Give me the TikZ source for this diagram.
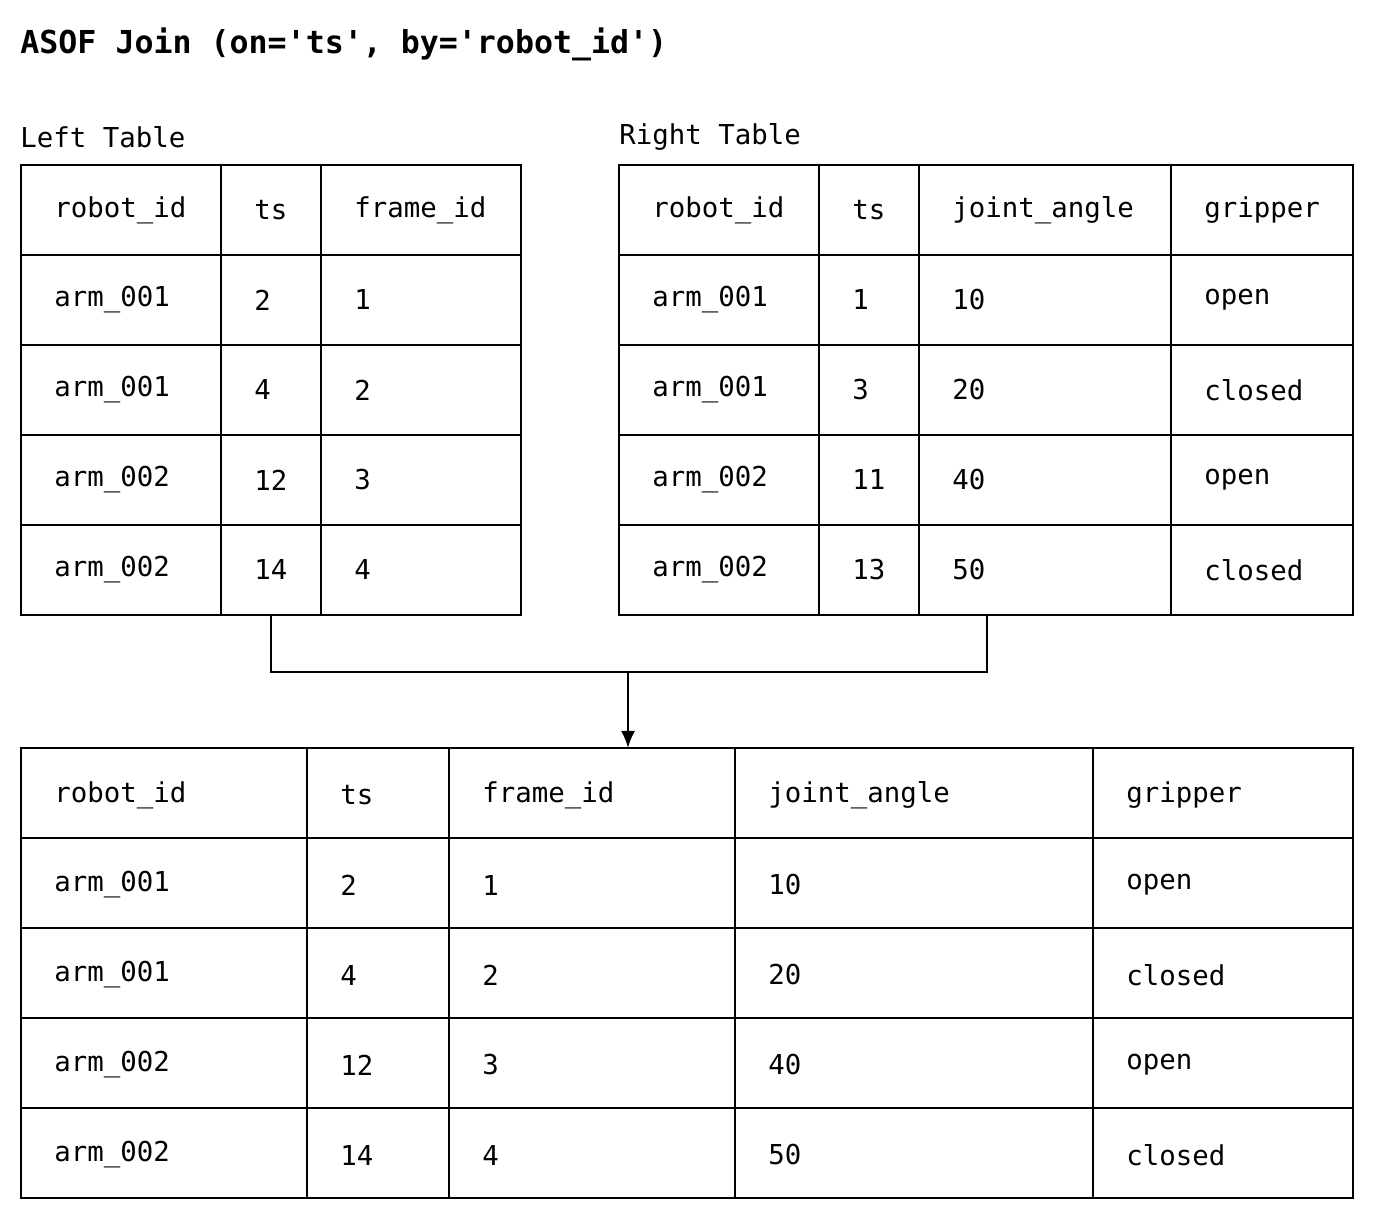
\documentclass[tikz,border=0pt]{standalone}
\usepackage{fontspec}
\setmonofont{DejaVu Sans Mono}
\usetikzlibrary{arrows.meta}
\tikzset{%
  >={Latex[width=2.5mm,length=3mm]},
  % cells and texts
  cell/.style = {draw, line width=1pt},
  txt/.style = {anchor=west, inner sep=0pt, font=\ttfamily\fontsize{13.7}{16}\selectfont},
  head/.style = {anchor=west, inner sep=0pt, font=\ttfamily\bfseries\fontsize{15.8}{19}\selectfont},
  norm/.style = {draw, line width=1.2pt}
}
\begin{document}
\begin{tikzpicture}[x=0.5pt, y=-0.5pt]
  \useasboundingbox (0,0) rectangle (1374,1220);
  \node (title) [head] at (20,44) {ASOF Join (on='ts', by='robot\_id')};
  \node (lname) [txt] at (20,137) {Left Table};
  \node (rname) [txt] at (619,137) {Right Table};
  % left table
  \foreach \y [count=\r] in {165,255,345,435,525}
    \foreach \xa/\xb/\t [count=\c] in {21/221/robot\_id,221/321/ts,321/521/frame\_id}
      \draw [cell] (\xa,\y) rectangle (\xb,\y+90);
  \foreach \y/\a/\b/\cc in {210/robot\_id/ts/frame\_id, 300/arm\_001/2/1, 390/arm\_001/4/2,
                            480/arm\_002/12/3, 570/arm\_002/14/4} {
    \node [txt] at (54,\y) {\a};
    \node [txt] at (254,\y) {\b};
    \node [txt] at (354,\y) {\cc};
  }
  % right table
  \foreach \y in {165,255,345,435,525}
    \foreach \xa/\xb in {619/819,819/919,919/1171,1171/1353}
      \draw [cell] (\xa,\y) rectangle (\xb,\y+90);
  \foreach \y/\a/\b/\cc/\d in {210/robot\_id/ts/joint\_angle/gripper, 300/arm\_001/1/10/open,
                               390/arm\_001/3/20/closed, 480/arm\_002/11/40/open, 570/arm\_002/13/50/closed} {
    \node [txt] at (652,\y) {\a};
    \node [txt] at (852,\y) {\b};
    \node [txt] at (952,\y) {\cc};
    \node [txt] at (1204,\y) {\d};
  }
  % result table
  \foreach \y in {748,838,928,1018,1108}
    \foreach \xa/\xb in {21/307,307/449,449/735,735/1093,1093/1353}
      \draw [cell] (\xa,\y) rectangle (\xb,\y+90);
  \foreach \y/\a/\b/\cc/\d/\e in {795/robot\_id/ts/frame\_id/joint\_angle/gripper,
      885/arm\_001/2/1/10/open, 975/arm\_001/4/2/20/closed,
      1065/arm\_002/12/3/40/open, 1155/arm\_002/14/4/50/closed} {
    \node [txt] at (54,\y) {\a};
    \node [txt] at (340,\y) {\b};
    \node [txt] at (482,\y) {\cc};
    \node [txt] at (768,\y) {\d};
    \node [txt] at (1126,\y) {\e};
  }
  % join connector
  \coordinate (lts) at (271,615);
  \coordinate (rja) at (987,615);
  \coordinate (mid) at (628,672);
  \coordinate (res) at (628,748);
  \draw [norm] (lts) |- (mid) -| (rja);
  \draw [norm, ->] (mid) -- (res);
\end{tikzpicture}
\end{document}
